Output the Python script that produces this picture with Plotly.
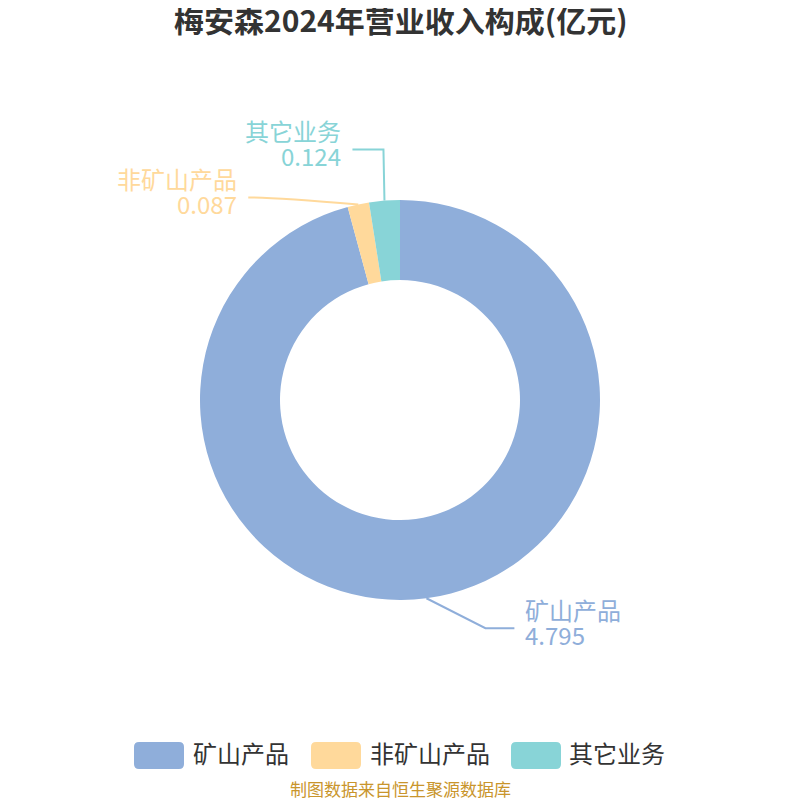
import math
import plotly.graph_objects as go

# ---- data ----
categories = ["矿山产品", "非矿山产品", "其它业务"]
values = [4.795, 0.087, 0.124]
value_labels = ["4.795", "0.087", "0.124"]
colors = ["#8FAEDA", "#FFD99B", "#88D4D7"]

title_text = "梅安森2024年营业收入构成(亿元)"
source_text = "制图数据来自恒生聚源数据库"

# ---- layout constants (pixels in the 800x800 window) ----
OFF = 8                      # page body margin
W = H = 800 - OFF
CX, CY, R = 400, 400, 200
FONT = "Noto Sans CJK SC"
# leader line geometry per slice: (dx1, dy1, horizontal length, smooth)
leader = [(59, 30, 29, False), (-83, -7, -27, True), (-1, -51, -31, False)]


def P(x, y):
    return (x - OFF) / W, 1 - (y - OFF) / H


fig = go.Figure(go.Pie(
    labels=categories, values=values, hole=0.6, sort=False,
    direction="clockwise", rotation=0,
    marker=dict(colors=colors, line=dict(width=0)),
    textinfo="none", hoverinfo="label+value", showlegend=False,
    domain=dict(x=[P(CX - R, 0)[0], P(CX + R, 0)[0]],
                y=[P(0, CY + R)[1], P(0, CY - R)[1]]),
))

shapes = []
annotations = []
total = sum(values)
cum = 0.0
for i, v in enumerate(values):
    mid = (cum + v / 2) / total * 2 * math.pi
    cum += v
    x0 = CX + R * math.sin(mid)
    y0 = CY - R * math.cos(mid)
    dx1, dy1, h, smooth = leader[i]
    x1, y1 = x0 + dx1, y0 + dy1
    x2, y2 = x1 + h, y1
    a0, a1, a2 = P(x0, y0), P(x1, y1), P(x2, y2)
    if smooth:
        path = f"M {a0[0]},{a0[1]} Q {a1[0]},{a1[1]} {a2[0]},{a2[1]}"
    else:
        path = f"M {a0[0]},{a0[1]} L {a1[0]},{a1[1]} L {a2[0]},{a2[1]}"
    shapes.append(dict(type="path", xref="paper", yref="paper", path=path,
                       line=dict(color=colors[i], width=2)))
    right = h > 0
    tx = x2 + 9 if right else x2 - 9
    for txt, dy in ((categories[i], -19), (value_labels[i], 6)):
        ax, ay = P(tx, y2 + dy)
        annotations.append(dict(
            x=ax, y=ay, xref="paper", yref="paper", text=txt, showarrow=False,
            xanchor="left" if right else "right", yanchor="middle",
            font=dict(family=FONT, size=24, color=colors[i])))

# ---- custom legend ----
leg_items = [(134, 194), (311, 371), (511, 570)]
for i, (sx, tx) in enumerate(leg_items):
    x0, y0, x1, y1 = sx, 742, sx + 50, 769
    r = 5

    def q(x, y):
        p = P(x, y)
        return f"{p[0]},{p[1]}"

    path = (f"M {q(x0 + r, y0)} L {q(x1 - r, y0)} Q {q(x1, y0)} {q(x1, y0 + r)} "
            f"L {q(x1, y1 - r)} Q {q(x1, y1)} {q(x1 - r, y1)} "
            f"L {q(x0 + r, y1)} Q {q(x0, y1)} {q(x0, y1 - r)} "
            f"L {q(x0, y0 + r)} Q {q(x0, y0)} {q(x0 + r, y0)} Z")
    shapes.append(dict(type="path", xref="paper", yref="paper", path=path,
                       fillcolor=colors[i], line=dict(width=0)))
    ax, ay = P(tx - 3, 752)
    annotations.append(dict(x=ax, y=ay, xref="paper", yref="paper", text=categories[i],
                            showarrow=False, xanchor="left", yanchor="middle",
                            font=dict(family=FONT, size=24, color="#333333")))

sx, sy = P(400, 788)
annotations.append(dict(x=sx, y=sy, xref="paper", yref="paper", text=source_text,
                        showarrow=False, xanchor="center", yanchor="middle",
                        font=dict(family=FONT, size=17, color="#C9952C")))

tx, ty = P(400, 19)
annotations.append(dict(x=tx, y=ty, xref="paper", yref="paper",
                        text=f"<b>{title_text}</b>", showarrow=False,
                        xanchor="center", yanchor="middle",
                        font=dict(family=FONT, size=30, color="#333333")))

fig.update_layout(
    width=W, height=H, margin=dict(l=0, r=0, t=0, b=0),
    paper_bgcolor="white", plot_bgcolor="white",
    shapes=shapes, annotations=annotations, showlegend=False,
)

fig.write_html("out.html")
